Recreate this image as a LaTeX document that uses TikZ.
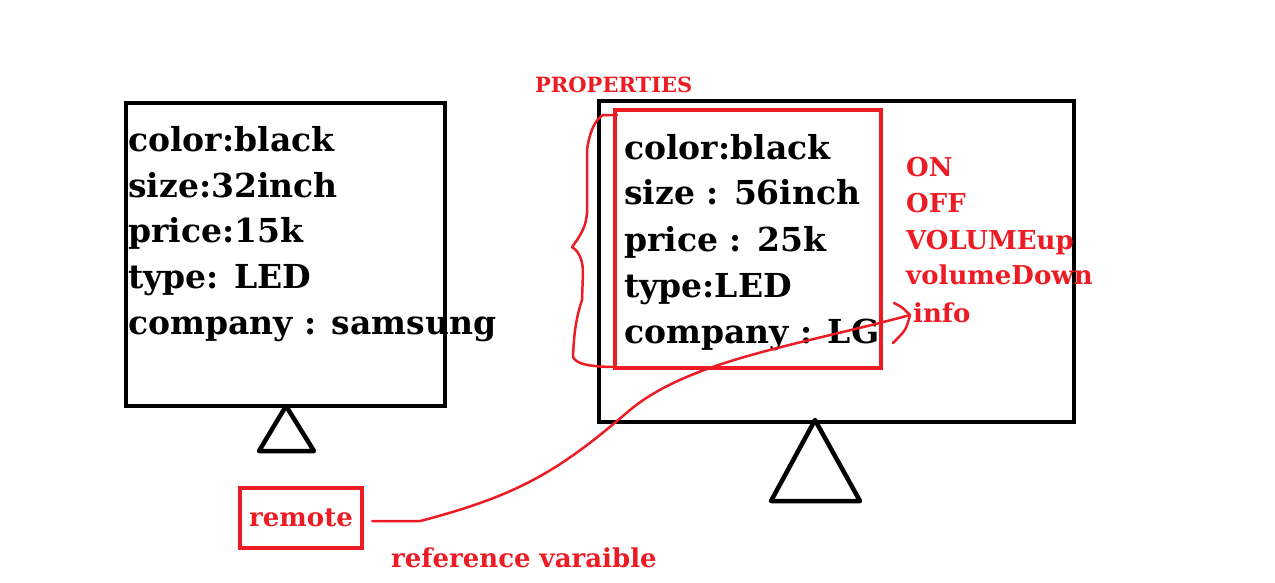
\documentclass[tikz,border=0pt]{standalone}
\usepackage{fontspec}
\usepackage{tikz}
\usetikzlibrary{calc}
\newfontfamily\slab{DejaVu Serif}
\definecolor{paintred}{RGB}{237,28,36}
\tikzset{
	field/.style={anchor=base west, inner sep=0, font=\slab\bfseries\fontsize{33}{33}\selectfont},
	method/.style={anchor=base west, inner sep=0, text=paintred, font=\slab\bfseries\fontsize{26}{26}\selectfont},
	tvline/.style={line width=4.5pt, draw=black},
	redbox/.style={line width=4.5pt, draw=paintred},
	redpen/.style={line width=2.5pt, draw=paintred, line cap=round, line join=round}
}

\begin{document}
\begin{tikzpicture}[x=1pt,y=-1pt]

	\useasboundingbox (0,0) rectangle (1275,582);

	%Left TV
	\draw[tvline] (126,103) rectangle (445,406);
	\draw[tvline, line join=round] (286,406) -- (259,451) -- (314,451) -- cycle;
	\node[field] (lcolor) at (128,151) {color:black};
	\node[field] (lsize) at (128,197) {size:32inch};
	\node[field] (lprice) at (128,242) {price:15k};
	\node[field] (ltype) at (128,288) {type: LED};
	\node[field] (lcompany) at (128,334) {company : samsung};

	%Right TV
	\draw[tvline] (599,101) rectangle (1074,422);
	\draw[tvline, line join=round] (815,420) -- (771,501) -- (860,501) -- cycle;
	\draw[redbox] (615,110) rectangle (881,368);
	\node[field] (rcolor) at (624,159) {color:black};
	\node[field] (rsize) at (624,204) {size : 56inch};
	\node[field] (rprice) at (624,251) {price : 25k};
	\node[field] (rtype) at (624,297) {type:LED};
	\node[field] (rcompany) at (624,343) {company : LG};

	%Methods
	\node[method] (on) at (906,176) {ON};
	\node[method] (off) at (906,212) {OFF};
	\node[method] (volup) at (906,249) {VOLUMEup};
	\node[method] (voldown) at (906,284) {volumeDown};
	\node[method] (info) at (913,322) {info};

	%Properties brace
	\node[method, font=\slab\bfseries\fontsize{21}{21}\selectfont] (props) at (535,92) {PROPERTIES};
	\draw[redpen] (617,115) -- (603,115) .. controls (594,120) and (589,135) .. (587,150)
		-- (587,213) .. controls (586,222) and (585,230) .. (572,247)
		.. controls (580,252) and (583,262) .. (583,273) -- (582,300)
		.. controls (577,315) and (574,330) .. (573,357)
		.. controls (576,364) and (590,367) .. (617,367);

	%Reference variable
	\node[redbox, minimum width=122, minimum height=60, inner sep=0, text=paintred,
		font=\slab\bfseries\fontsize{26}{26}\selectfont] (remote) at (301,518) {remote};
	\node[method] (refvar) at (391,567) {reference varaible};
	\coordinate (tip) at (910,315);
	\draw[redpen] ($(remote.east)+(8,3)$) -- ++(48,0)
		.. controls (520,495) and (560,470) .. (630,410)
		.. controls (690,360) and (800,345) .. (tip);
	\draw[redpen] (894,303) .. controls (902,307) .. (tip) .. controls (906,330) .. (893,343);

\end{tikzpicture}
\end{document}
